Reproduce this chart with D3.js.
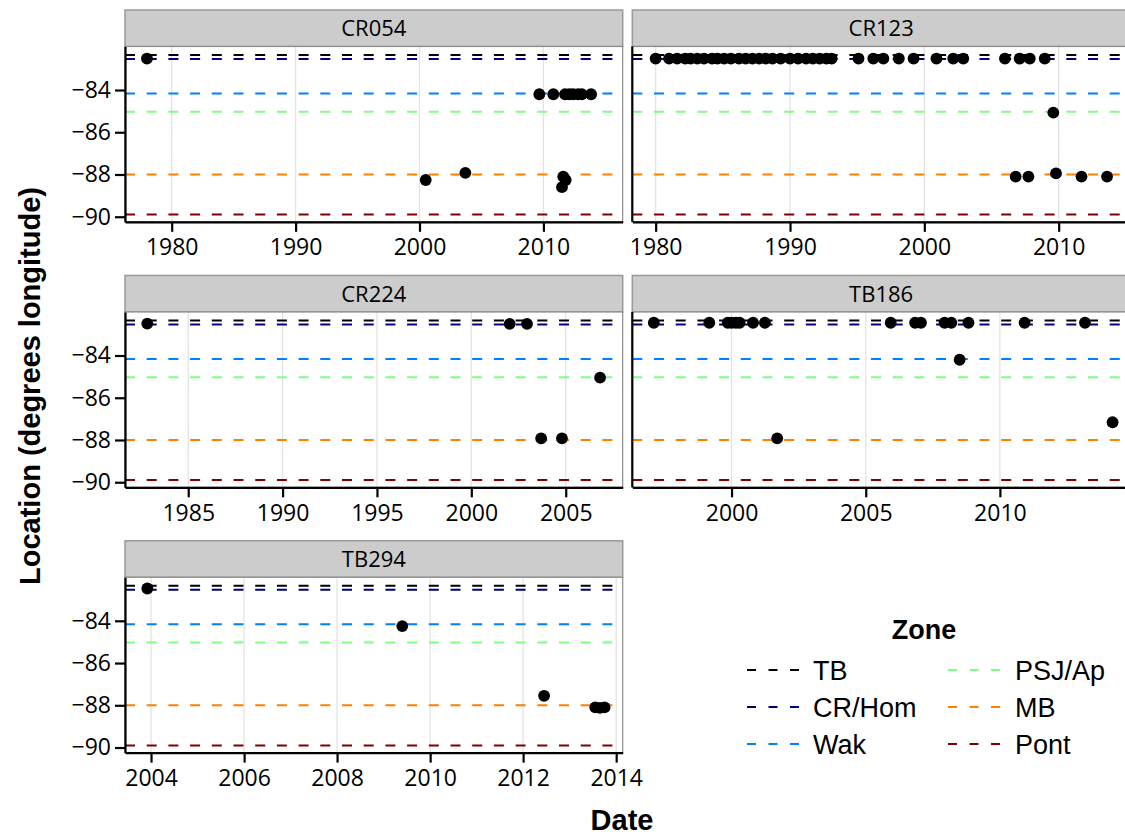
<!DOCTYPE html>
<html>
<head>
<meta charset="utf-8">
<script src="https://cdn.jsdelivr.net/npm/d3@7"></script>
<style>
  body { margin: 0; background: #fff; }
  svg { display: block; }
</style>
</head>
<body>
<svg id="chart" width="1125" height="836"></svg>
<script>
// zone reference lines
const zones = ["TB", "CR/Hom", "Wak", "PSJ/Ap", "MB", "Pont"];
const zoneLon = [-82.34, -82.53, -84.16, -85.03, -88.0, -89.9];
const zoneColors = ["#000000", "#00007F", "#007FFF", "#7FFF7F", "#FF7F00", "#7F0000"];

// facets
const panels = ["CR054", "CR123", "CR224", "TB186", "TB294"];
const xDomains = [[1976.23, 2016.4], [1978.26, 2015.31], [1981.65, 2008.02], [1996.3, 2014.85], [2003.44, 2014.14]];
const xTicks = [[1980, 1990, 2000, 2010], [1980, 1990, 2000, 2010], [1985, 1990, 1995, 2000, 2005], [2000, 2005, 2010], [2004, 2006, 2008, 2010, 2012, 2014]];
const yDomain = [-90.24, -81.94];
const yTicks = [-84, -86, -88, -90];

// detections: decimal year and longitude
const cr054Year = [1978.0, 2000.5, 2003.7, 2009.67, 2010.8, 2011.5, 2011.6, 2011.75, 2011.8, 2012.1, 2012.4, 2012.8, 2013.1, 2013.85];
const cr054Lon = [-82.51, -88.26, -87.92, -84.2, -84.2, -88.6, -88.1, -84.2, -88.26, -84.2, -84.2, -84.2, -84.2, -84.2];

const cr123Year = [1980.0, 1981.0, 1981.6, 1982.2, 1982.6, 1983.1, 1983.6, 1984.2, 1984.6, 1985.1, 1985.6, 1986.2, 1986.7,
  1987.2, 1987.7, 1988.2, 1988.7, 1989.3, 1990.0, 1990.6, 1991.2, 1991.7, 1992.2, 1992.7, 1993.1,
  1995.1, 1996.2, 1996.95, 1998.1, 1999.2, 2000.9, 2002.15, 2002.9, 2006.0, 2007.1, 2007.85, 2008.96,
  2006.8, 2007.75, 2009.6, 2009.8, 2011.7, 2013.6];
const cr123Lon = [-82.51, -82.51, -82.51, -82.51, -82.51, -82.51, -82.51, -82.51, -82.51, -82.51, -82.51, -82.51, -82.51,
  -82.51, -82.51, -82.51, -82.51, -82.51, -82.51, -82.51, -82.51, -82.51, -82.51, -82.51, -82.51,
  -82.51, -82.51, -82.51, -82.51, -82.51, -82.51, -82.51, -82.51, -82.51, -82.51, -82.51, -82.51,
  -88.1, -88.1, -85.07, -87.95, -88.1, -88.1];

const cr224Year = [1982.83, 2002.03, 2002.95, 2003.7, 2004.8, 2006.82];
const cr224Lon = [-82.49, -82.5, -82.5, -87.92, -87.92, -85.05];

const tb186Year = [1997.1, 1999.17, 1999.86, 2000.0, 2000.16, 2000.3, 2000.8, 2001.24, 2001.7, 2005.93, 2006.84, 2007.06,
  2007.94, 2008.19, 2008.5, 2008.83, 2010.92, 2013.17, 2014.2];
const tb186Lon = [-82.45, -82.45, -82.45, -82.45, -82.45, -82.45, -82.45, -82.45, -87.92, -82.45, -82.45, -82.45,
  -82.45, -82.45, -84.2, -82.45, -82.45, -82.45, -87.16];

const tb294Year = [2003.92, 2009.4, 2012.45, 2013.55, 2013.65, 2013.75];
const tb294Lon = [-82.47, -84.25, -87.55, -88.1, -88.12, -88.1];

const panelYears = [cr054Year, cr123Year, cr224Year, tb186Year, tb294Year];
const panelLons = [cr054Lon, cr123Lon, cr224Lon, tb186Lon, tb294Lon];

function yearToDate(y) {
  const yr = Math.floor(y);
  const start = new Date(yr, 0, 1), end = new Date(yr + 1, 0, 1);
  return new Date(+start + (y - yr) * (end - start));
}

const svg = d3.select("#chart");
const tickFont = "'Open Sans', 'DejaVu Sans', sans-serif";
const titleFont = "'Liberation Sans', Arial, sans-serif";

const colX = [125, 632.3], rowY = [46.5, 312, 577.3];
const pw = 497.7, ph = 175.3, stripH = 36.5;
const dash = "10,11.7";

const y = d3.scaleLinear().domain(yDomain).range([ph, 0]);

panels.forEach(function (name, i) {
  const col = i % 2, row = Math.floor(i / 2);
  const g = svg.append("g").attr("transform", "translate(" + colX[col] + "," + rowY[row] + ")");

  const x = d3.scaleTime()
    .domain(xDomains[i].map(yearToDate))
    .range([0, pw]);
  const ticks = xTicks[i].map(function (t) { return new Date(t, 0, 1); });

  // strip
  g.append("rect")
    .attr("x", 0).attr("y", -stripH)
    .attr("width", pw).attr("height", stripH)
    .attr("fill", "#cccccc").attr("stroke", "#999999").attr("stroke-width", 1.5);
  g.append("text")
    .attr("x", pw / 2).attr("y", -stripH / 2)
    .attr("dy", "0.36em")
    .attr("text-anchor", "middle")
    .style("font-family", tickFont).style("font-size", "22px")
    .text(name);

  // panel
  g.append("rect").attr("width", pw).attr("height", ph).attr("fill", "#fff");

  g.selectAll(".grid")
    .data(ticks)
    .enter().append("line")
    .attr("x1", function (d) { return x(d); }).attr("x2", function (d) { return x(d); })
    .attr("y1", 0).attr("y2", ph)
    .attr("stroke", "#e3e3e3").attr("stroke-width", 1.3);

  g.selectAll(".zone")
    .data(zones)
    .enter().append("line")
    .attr("x1", 0).attr("x2", pw)
    .attr("y1", function (d, k) { return y(zoneLon[k]); })
    .attr("y2", function (d, k) { return y(zoneLon[k]); })
    .attr("stroke", function (d, k) { return zoneColors[k]; })
    .attr("stroke-width", 2)
    .attr("stroke-dasharray", dash);

  g.selectAll(".pt")
    .data(panelYears[i])
    .enter().append("circle")
    .attr("cx", function (d) { return x(yearToDate(d)); })
    .attr("cy", function (d, k) { return y(panelLons[i][k]); })
    .attr("r", 5.9)
    .attr("fill", "#000");

  // border
  g.append("rect").attr("width", pw).attr("height", ph)
    .attr("fill", "none").attr("stroke", "#8c8c8c").attr("stroke-width", 1.2);

  // axes
  const xa = g.append("g")
    .attr("transform", "translate(0," + ph + ")")
    .call(d3.axisBottom(x).tickValues(ticks).tickFormat(d3.timeFormat("%Y")).tickSize(10).tickSizeOuter(0).tickPadding(7));
  xa.select(".domain").attr("stroke", "#000").attr("stroke-width", 2.2);
  xa.selectAll(".tick line").attr("stroke", "#000").attr("stroke-width", 2.2);
  xa.selectAll("text").style("font-family", tickFont).style("font-size", "23px").attr("fill", "#000");

  if (col === 0) {
    const ya = g.append("g")
      .call(d3.axisLeft(y).tickValues(yTicks).tickFormat(function (d) { return "\u2212" + Math.abs(d); })
        .tickSize(10).tickSizeOuter(0).tickPadding(4));
    ya.select(".domain").attr("stroke", "#000").attr("stroke-width", 2.2);
    ya.selectAll(".tick line").attr("stroke", "#000").attr("stroke-width", 2.2);
    ya.selectAll("text").style("font-family", tickFont).style("font-size", "23px").attr("fill", "#000");
  } else {
    g.append("line").attr("x1", 0).attr("x2", 0).attr("y1", 0).attr("y2", ph)
      .attr("stroke", "#000").attr("stroke-width", 2.2);
  }
});

// axis titles
svg.append("text")
  .attr("x", 622).attr("y", 830)
  .attr("text-anchor", "middle")
  .style("font-family", titleFont).style("font-size", "29px").style("font-weight", "bold")
  .text("Date");
svg.append("text")
  .attr("transform", "translate(40,386) rotate(-90)")
  .attr("text-anchor", "middle")
  .style("font-family", titleFont).style("font-size", "29px").style("font-weight", "bold")
  .text("Location (degrees longitude)");

// legend
const legend = svg.append("g");
legend.append("text")
  .attr("x", 924).attr("y", 639)
  .attr("text-anchor", "middle")
  .style("font-family", titleFont).style("font-size", "27px").style("font-weight", "bold")
  .text("Zone");

const keyX = [747, 948], labelX = [813, 1015], keyRowY = [670, 707, 744];
const items = legend.selectAll(".item")
  .data(zones)
  .enter().append("g")
  .attr("transform", function (d, k) {
    return "translate(0," + keyRowY[k % 3] + ")";
  });
items.append("line")
  .attr("x1", function (d, k) { return keyX[Math.floor(k / 3)]; })
  .attr("x2", function (d, k) { return keyX[Math.floor(k / 3)] + 54; })
  .attr("stroke", function (d, k) { return zoneColors[k]; })
  .attr("stroke-width", 2)
  .attr("stroke-dasharray", "9,12.5");
items.append("text")
  .attr("x", function (d, k) { return labelX[Math.floor(k / 3)]; })
  .attr("dy", "0.36em")
  .style("font-family", titleFont).style("font-size", "27px")
  .text(function (d) { return d; });
</script>
</body>
</html>
